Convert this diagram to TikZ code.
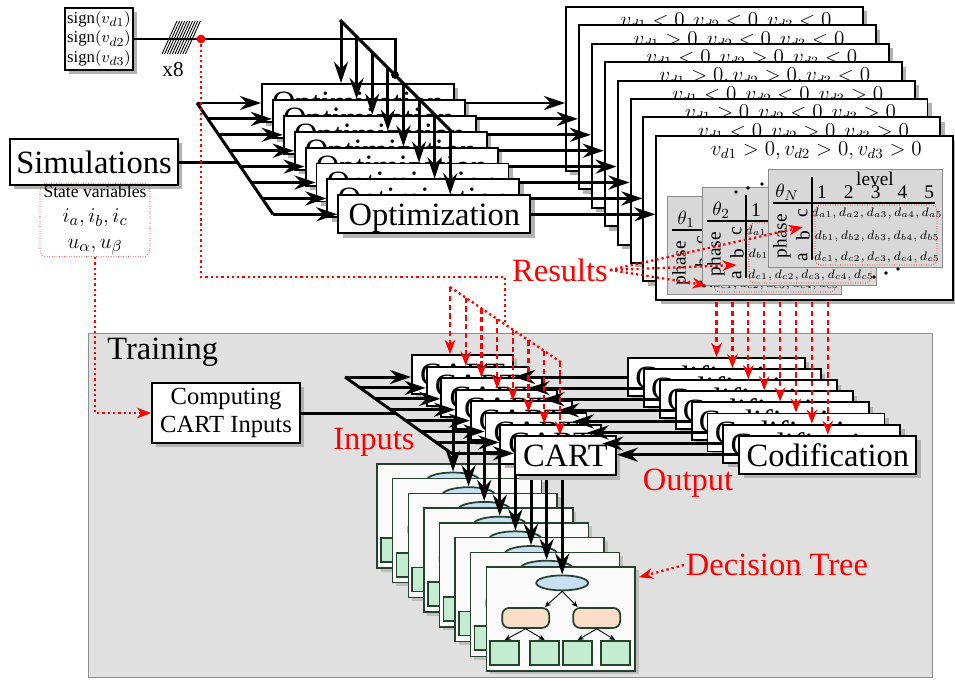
\documentclass[tikz,border=0pt]{standalone}
\usepackage{fontspec}
\setmainfont{Liberation Serif}
\usetikzlibrary{positioning}
\usetikzlibrary{arrows.meta}
\usetikzlibrary{shapes.geometric}
\usetikzlibrary{shadows}
\usetikzlibrary{calc}

\pgfdeclarelayer{bg}
\pgfdeclarelayer{mid}
\pgfsetlayers{bg,mid,main}

\definecolor{dtgreen}{RGB}{38,66,46}
\definecolor{dtblue}{RGB}{200,222,242}
\definecolor{dtpeach}{RGB}{250,222,200}
\definecolor{dtleaf}{RGB}{196,236,208}
\definecolor{tabgray}{RGB}{216,216,216}

\tikzset{
  blk/.style={draw, line width=1.1pt, fill=white, inner sep=1pt,
    drop shadow={shadow xshift=2.5pt, shadow yshift=-2.5pt, fill=black!30, opacity=1}},
  big/.style={font=\fontsize{18.5}{21}\selectfont},
  optbox/.style={blk, big, text depth=0pt, minimum width=3.84cm, minimum height=0.76cm},
  resbox/.style={blk, minimum width=5.94cm, minimum height=3.28cm},
  cartbox/.style={blk, big, minimum width=2.02cm, minimum height=0.78cm},
  codbox/.style={blk, big, text depth=0pt, minimum width=3.54cm, minimum height=0.76cm},
  hdtxt/.style={font=\fontsize{12}{14}\selectfont, inner sep=0pt},
  tabtxt/.style={font=\fontsize{11}{12}\selectfont, inner sep=0pt},
  dattxt/.style={font=\fontsize{7.5}{9}\selectfont, inner sep=0pt},
  card/.style={draw=dtgreen, line width=0.8pt, fill=black!2, minimum width=2.98cm, minimum height=2.08cm,
    drop shadow={shadow xshift=2pt, shadow yshift=-2pt, fill=black!25, opacity=1}},
  dtnode/.style={draw=dtgreen, line width=1pt, inner sep=0pt},
  dtarr/.style={line width=0.5pt, -{Stealth[length=3.5pt,width=3pt]}},
  bus/.style={line width=1.7pt},
  conn/.style={line width=1.7pt, -{Stealth[length=12pt,width=8pt,inset=4pt]}},
  rtxt/.style={big, text=red, inner sep=1pt},
  rdot/.style={red, line width=1.3pt, dash pattern=on 1.3pt off 1.7pt},
  rdotarr/.style={rdot, -{Stealth[length=8pt,width=6pt,inset=2.5pt]}},
  rdash/.style={red, line width=1.3pt, dash pattern=on 3pt off 2pt, -{Stealth[length=8pt,width=6pt,inset=2.5pt]}}
}

% one table of levels for an angle
\newcommand\restab[4]{%
  \begin{scope}[shift={(#2,#3)}]
    \node[draw=black!45, fill=tabgray, minimum width=3.48cm, minimum height=1.96cm, inner sep=0pt] (#1box) at (87,49) {};
    \node[tabtxt] (#1lv) at (107,10) {level};
    \node[tabtxt] (#1th) at (19,23) {$#4$};
    \foreach \lv [count=\k from 0] in {1,...,5}
      \node[tabtxt] (#1n\k) at (54+26.8*\k,23) {\lv};
    \draw[line width=0.9pt] (5,34) -- (167,34);
    \draw[line width=0.9pt] (44,8) -- (44,91);
    \node[tabtxt, rotate=90] (#1ph) at (14,67) {phase};
    \node[tabtxt, rotate=90] (#1pc) at (35,44) {c};
    \node[tabtxt, rotate=90] (#1pb) at (35,67) {b};
    \node[tabtxt, rotate=90] (#1pa) at (35,88) {a};
    \node[dattxt] (#1ra) at (109,44) {$d_{a1},d_{a2},d_{a3},d_{a4},d_{a5}$};
    \node[dattxt] (#1rb) at (109,67) {$d_{b1},d_{b2},d_{b3},d_{b4},d_{b5}$};
    \node[dattxt] (#1rc) at (109,88) {$d_{c1},d_{c2},d_{c3},d_{c4},d_{c5}$};
    \node[draw=red, densely dotted, rounded corners=3pt, minimum width=2.44cm, minimum height=1.2cm, inner sep=0pt] (#1) at (108,66) {};
  \end{scope}}

% one decision tree card
\newcommand\dtcard[3]{%
  \begin{scope}[shift={(#2,#3)}]
    \node[card] (card#1) at (74.5,52) {};
    \node[dtnode, ellipse, fill=dtblue, minimum width=1.04cm, minimum height=0.3cm] (ell#1) at (76,16) {};
    \node[dtnode, fill=dtpeach, rounded corners=4pt, minimum width=0.94cm, minimum height=0.4cm] (ml#1) at (39.5,51) {};
    \node[dtnode, fill=dtpeach, rounded corners=4pt, minimum width=0.94cm, minimum height=0.4cm] (mr#1) at (110.5,51) {};
    \foreach \q/\lx in {1/18.5,2/58.5,3/91.5,4/129}
      \node[dtnode, fill=dtleaf, minimum width=0.58cm, minimum height=0.48cm] (lf#1\q) at (\lx,86) {};
    \draw[dtarr] (ell#1.south) -- ([xshift=-3pt]ml#1.north east);
    \draw[dtarr] (ell#1.south) -- ([xshift=3pt]mr#1.north west);
    \draw[dtarr] (ml#1.south) -- (lf#11.north);
    \draw[dtarr] (ml#1.south) -- (lf#12.north);
    \draw[dtarr] (mr#1.south) -- (lf#13.north);
    \draw[dtarr] (mr#1.south) -- (lf#14.north);
  \end{scope}}

\begin{document}
\begin{tikzpicture}[x=0.02cm, y=-0.02cm]
\useasboundingbox (0,0) rectangle (955,680);

% training area
\begin{pgfonlayer}{bg}
\node[draw=black!45, fill=black!12, minimum width=16.88cm, minimum height=6.88cm, inner sep=0pt] (trn) at (510,505) {};
\end{pgfonlayer}
\node[big, inner sep=1pt, below right=2pt and 10pt of trn.north west] (trnlab) {Training};

% results
\foreach \i/\sa/\sb/\sc in {0/</</<,1/>/</<,2/</>/<,3/>/>/<,4/</</>,5/>/</>,6/</>/>,7/>/>/>}{
  \node[resbox] (res\i) at (714.5+12.9*\i, 89+18.4*\i) {};
  \node[hdtxt] (hd\i) at ($(res\i.north west)+(161,16)$) {$v_{d1}\sa0, v_{d2}\sb0, v_{d3}\sc0$};
}
\restab{datA}{667}{196}{\theta_1}
\restab{datB}{702}{187}{\theta_2}
\restab{datN}{768}{169}{\theta_N}
\foreach \p in {(736,192),(748,188),(762,184),(874,277),(886,273),(898,269)}
  \fill \p circle (1.1pt);

% optimization
\foreach \i in {0,...,7}
  \node[optbox] (opt\i) at (358+10.9*\i, 103+15.9*\i) {Optimization};

\node[blk, align=center, font=\fontsize{9.5}{11.3}\selectfont, minimum width=1.36cm, minimum height=1.24cm] (sgn) at (99,39)
  {$\mathrm{sign}(v_{d1})$\\$\mathrm{sign}(v_{d2})$\\$\mathrm{sign}(v_{d3})$};
\foreach \k in {0,...,9}
  \draw[line width=0.5pt] (162+2.6*\k,54) -- (177+2.6*\k,21);
\node[font=\fontsize{12}{14}\selectfont, inner sep=0pt] (xe) at (173,70) {x8};
\coordinate (sbA) at (340,20);
\coordinate (sbB) at (451,131);
\coordinate (sdot) at (395,75);
\draw[bus] (sbA) -- (sbB);
\draw[bus] (sgn.east) -- (sgn.east -| sdot) -- (sdot);
\fill (sdot) circle (2.2pt);
\foreach \i in {0,...,7}{
  \coordinate (sd\i) at (341+15.6*\i, 21+15.6*\i);
  \draw[conn] (sd\i) -- (sd\i |- opt\i.north);
}

\node[blk, big, minimum width=3.36cm, minimum height=0.92cm] (sim) at (94,162) {Simulations};
\node[draw=red, densely dotted, rounded corners=4pt, align=center, inner sep=1pt, minimum width=2.2cm, minimum height=1.3cm,
  font=\fontsize{13}{14.5}\selectfont] (sv) at (95,220)
  {{\fontsize{10}{11}\selectfont State variables}\\$i_a, i_b, i_c$\\$u_\alpha, u_\beta$};
\coordinate (odA) at (197,103);
\coordinate (odB) at (273,214.3);
\coordinate (odM) at (237.4,162);
\draw[bus] (odA) -- (odB);
\draw[bus] (sim.east) -- (odM);
\foreach \i in {0,...,7}{
  \coordinate (od\i) at (197+10.86*\i, 103+15.9*\i);
  \draw[conn] (od\i) -- (od\i -| opt\i.west);
}
\foreach \i in {0,...,6}{
  \pgfmathtruncatemacro\j{\i+1}
  \draw[conn] (opt\j.east |- opt\i.east) -- (opt\i.east -| res\i.west);
}
\draw[conn] (opt7.east) -- (opt7.east -| res7.west);

% red links from the sign bus and the results
\coordinate (rdot) at (201,39);
\coordinate (rbus) at (505,277);
\coordinate (rjoin) at (505,324.3);
\coordinate (rdA) at (450,287);
\coordinate (rdB) at (562,363);
\draw[rdot] (rdot) -- (rdot |- rbus) -- (rbus) -- (rjoin);
\draw[rdot] (rdA) -- (rdB);
\fill[red] (rdot) circle (2.5pt);

\node[rtxt] (reslab) at (560,270) {Results};
\draw[rdotarr] (reslab.east) -- ([shift={(-7,-7)}]datA.south west);
\draw[rdotarr] (reslab.east) -- ([shift={(-12,12)}]datB.west);
\draw[rdotarr] (reslab.east) -- ([shift={(-12,-8)}]datN.west);

% training
\node[blk, align=center, font=\fontsize{14}{16.4}\selectfont, minimum width=2.96cm, minimum height=1.2cm] (comp) at (226,413) {Computing\\CART Inputs};
\draw[rdotarr] (sv.south) -- (sv.south |- comp.west) -- (comp.west);

\foreach \i in {0,...,7}
  \node[cartbox] (cart\i) at (462.5+14.7*\i, 374.5+11.6*\i) {CART};
\foreach \i in {0,...,7}
  \node[codbox] (cod\i) at (716.5+15.9*\i, 377+11.1*\i) {Codification};

\begin{pgfonlayer}{mid}
\foreach \i in {0,...,7}{
  \dtcard{\i}{377+15.6*\i}{464+14.7*\i}
}
\foreach \i in {0,...,7}
  \draw[conn] (ell\i.north |- cart\i.south) -- (ell\i.north);
\end{pgfonlayer}

\coordinate (cdA) at (345,377);
\coordinate (cdB) at (451.4,453.3);
\coordinate (cdM) at (395.2,413);
\draw[bus] (cdA) -- (cdB);
\draw[bus] (comp.east) -- (cdM);
\foreach \i in {0,...,7}{
  \coordinate (cd\i) at (345+15.2*\i, 377+10.9*\i);
  \draw[conn] (cd\i) -- (cd\i -| cart\i.west);
  \coordinate (rd\i) at (450+15.7*\i, 287+10.66*\i);
  \draw[rdash] (rd\i) -- (rd\i |- cart\i.north);
  \draw[conn] (cod\i.west) -- (cod\i.west -| cart\i.east);
}
\coordinate (resbot) at (0,302);
\foreach \i in {0,...,7}
  \draw[rdash] (cod\i.north |- resbot) -- (cod\i.north);

\node[rtxt] (inlab) at (374,442) {Inputs};
\node[rtxt] (outlab) at (688,483) {Output};
\node[rtxt] (dtlab) at (777,565) {Decision Tree};
\draw[rdotarr] (dtlab.west) -- ([shift={(3,11)}]card7.north east);
\end{tikzpicture}
\end{document}
